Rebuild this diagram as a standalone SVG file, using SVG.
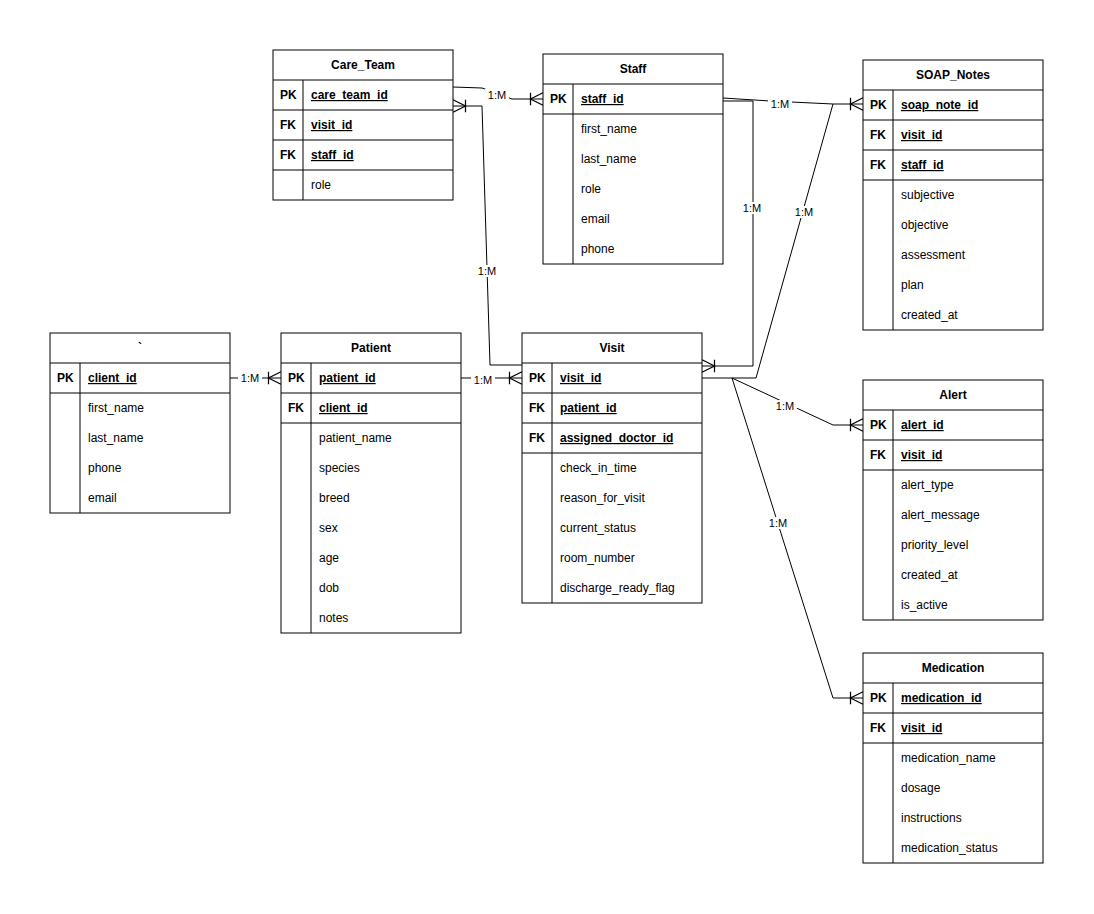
<svg xmlns="http://www.w3.org/2000/svg" width="1094" height="914" viewBox="0 0 1094 914">
<style>
.b{fill:#fff;stroke:#000;stroke-width:1}
.l{stroke:#000;stroke-width:1;fill:none}
text{font-family:"Liberation Sans",Arial,sans-serif;font-size:12px;fill:#000}
.h{font-weight:bold;text-anchor:middle}
.k{font-weight:bold}
.u{font-weight:bold;text-decoration:underline}
.c{stroke:#000;stroke-width:1;fill:none}
.lb{font-size:11px;text-anchor:middle}
.lbg{fill:#fff;stroke:none}
</style>
<defs>
<marker id="m" markerUnits="userSpaceOnUse" markerWidth="20" markerHeight="20" refX="0" refY="0" viewBox="-14 -8 16 16" orient="auto" overflow="visible">
<path d="M0,-5 L-10,0 L0,5 M-10,-5 L-10,5" fill="none" stroke="#000" stroke-width="1"/>
</marker>
</defs>
<g id="connectors">
<path class="c" d="M453,87 L482,88 L512,99 L543,99" marker-end="url(#m)"/>
<path class="c" d="M522,365 L490,365 L482,106 L453,106" marker-end="url(#m)"/>
<path class="c" d="M723,101 L753,101 L753,366 L702,366" marker-end="url(#m)"/>
<path class="c" d="M723,98 L770,101 L833,104 L863,104" marker-end="url(#m)"/>
<path class="c" d="M702,378 L756,378 L833,104"/>
<path class="c" d="M230,378 L281,378" marker-end="url(#m)"/>
<path class="c" d="M461,378 L522,378" marker-end="url(#m)"/>
<path class="c" d="M732,378 L833,425 L863,425" marker-end="url(#m)"/>
<path class="c" d="M732,378 L833,698 L863,698" marker-end="url(#m)"/>
<rect class="lbg" x="485" y="89" width="24" height="12"/><text class="lb" x="497" y="99">1:M</text>
<rect class="lbg" x="475" y="265" width="24" height="12"/><text class="lb" x="487" y="275">1:M</text>
<rect class="lbg" x="740" y="202" width="24" height="12"/><text class="lb" x="752" y="212">1:M</text>
<rect class="lbg" x="768" y="98" width="24" height="12"/><text class="lb" x="780" y="108">1:M</text>
<rect class="lbg" x="792" y="206" width="24" height="12"/><text class="lb" x="804" y="216">1:M</text>
<rect class="lbg" x="238" y="372" width="24" height="12"/><text class="lb" x="250" y="382">1:M</text>
<rect class="lbg" x="471" y="374" width="24" height="12"/><text class="lb" x="483" y="384">1:M</text>
<rect class="lbg" x="773" y="400" width="24" height="12"/><text class="lb" x="785" y="410">1:M</text>
<rect class="lbg" x="766" y="517" width="24" height="12"/><text class="lb" x="778" y="527">1:M</text>
</g>
<g id="care_team">
<rect class="b" x="273" y="50" width="180" height="150"/>
<path class="l" d="M273,80H453M273,110H453M273,140H453M273,170H453M303,80V200"/>
<text class="h" x="363" y="69">Care_Team</text>
<text class="k" x="280" y="99">PK</text><text class="u" x="311" y="99">care_team_id</text>
<text class="k" x="280" y="129">FK</text><text class="u" x="311" y="129">visit_id</text>
<text class="k" x="280" y="159">FK</text><text class="u" x="311" y="159">staff_id</text>
<text x="311" y="189">role</text>
</g>
<g id="staff">
<rect class="b" x="543" y="54" width="180" height="210"/>
<path class="l" d="M543,84H723M543,114H723M573,84V264"/>
<text class="h" x="633" y="73">Staff</text>
<text class="k" x="550" y="103">PK</text><text class="u" x="581" y="103">staff_id</text>
<text x="581" y="133">first_name</text><text x="581" y="163">last_name</text><text x="581" y="193">role</text><text x="581" y="223">email</text><text x="581" y="253">phone</text>
</g>
<g id="soap_notes">
<rect class="b" x="863" y="60" width="180" height="270"/>
<path class="l" d="M863,90H1043M863,120H1043M863,150H1043M863,180H1043M893,90V330"/>
<text class="h" x="953" y="79">SOAP_Notes</text>
<text class="k" x="870" y="109">PK</text><text class="u" x="901" y="109">soap_note_id</text>
<text class="k" x="870" y="139">FK</text><text class="u" x="901" y="139">visit_id</text>
<text class="k" x="870" y="169">FK</text><text class="u" x="901" y="169">staff_id</text>
<text x="901" y="199">subjective</text><text x="901" y="229">objective</text><text x="901" y="259">assessment</text><text x="901" y="289">plan</text><text x="901" y="319">created_at</text>
</g>
<g id="client">
<rect class="b" x="50" y="333" width="180" height="180"/>
<path class="l" d="M50,363H230M50,393H230M80,363V513"/>
<text class="h" x="140" y="352">`</text>
<text class="k" x="57" y="382">PK</text><text class="u" x="88" y="382">client_id</text>
<text x="88" y="412">first_name</text><text x="88" y="442">last_name</text><text x="88" y="472">phone</text><text x="88" y="502">email</text>
</g>
<g id="patient">
<rect class="b" x="281" y="333" width="180" height="300"/>
<path class="l" d="M281,363H461M281,393H461M281,423H461M311,363V633"/>
<text class="h" x="371" y="352">Patient</text>
<text class="k" x="288" y="382">PK</text><text class="u" x="319" y="382">patient_id</text>
<text class="k" x="288" y="412">FK</text><text class="u" x="319" y="412">client_id</text>
<text x="319" y="442">patient_name</text><text x="319" y="472">species</text><text x="319" y="502">breed</text><text x="319" y="532">sex</text><text x="319" y="562">age</text><text x="319" y="592">dob</text><text x="319" y="622">notes</text>
</g>
<g id="visit">
<rect class="b" x="522" y="333" width="180" height="270"/>
<path class="l" d="M522,363H702M522,393H702M522,423H702M522,453H702M552,363V603"/>
<text class="h" x="612" y="352">Visit</text>
<text class="k" x="529" y="382">PK</text><text class="u" x="560" y="382">visit_id</text>
<text class="k" x="529" y="412">FK</text><text class="u" x="560" y="412">patient_id</text>
<text class="k" x="529" y="442">FK</text><text class="u" x="560" y="442">assigned_doctor_id</text>
<text x="560" y="472">check_in_time</text><text x="560" y="502">reason_for_visit</text><text x="560" y="532">current_status</text><text x="560" y="562">room_number</text><text x="560" y="592">discharge_ready_flag</text>
</g>
<g id="alert">
<rect class="b" x="863" y="380" width="180" height="240"/>
<path class="l" d="M863,410H1043M863,440H1043M863,470H1043M893,410V620"/>
<text class="h" x="953" y="399">Alert</text>
<text class="k" x="870" y="429">PK</text><text class="u" x="901" y="429">alert_id</text>
<text class="k" x="870" y="459">FK</text><text class="u" x="901" y="459">visit_id</text>
<text x="901" y="489">alert_type</text><text x="901" y="519">alert_message</text><text x="901" y="549">priority_level</text><text x="901" y="579">created_at</text><text x="901" y="609">is_active</text>
</g>
<g id="medication">
<rect class="b" x="863" y="653" width="180" height="210"/>
<path class="l" d="M863,683H1043M863,713H1043M863,743H1043M893,683V863"/>
<text class="h" x="953" y="672">Medication</text>
<text class="k" x="870" y="702">PK</text><text class="u" x="901" y="702">medication_id</text>
<text class="k" x="870" y="732">FK</text><text class="u" x="901" y="732">visit_id</text>
<text x="901" y="762">medication_name</text><text x="901" y="792">dosage</text><text x="901" y="822">instructions</text><text x="901" y="852">medication_status</text>
</g>
</svg>
